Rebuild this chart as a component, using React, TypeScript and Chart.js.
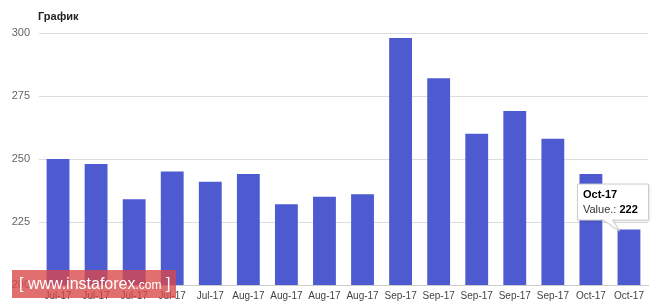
import React, { useEffect, useRef } from "react";
import { Chart, registerables } from "chart.js";

Chart.register(...registerables);

const categories = [
  "Jul-17", "Jul-17", "Jul-17", "Jul-17", "Jul-17",
  "Aug-17", "Aug-17", "Aug-17", "Aug-17",
  "Sep-17", "Sep-17", "Sep-17", "Sep-17", "Sep-17",
  "Oct-17", "Oct-17",
];
const values = [250, 248, 234, 245, 241, 244, 232, 235, 236, 298, 282, 260, 269, 258, 244, 222];
const yTicks = [200, 225, 250, 275, 300];
const titleText = "График";
const tooltipIndex = 15;
const tooltipLabel = "Value.: ";

const FONT = "Arial, 'Liberation Sans', sans-serif";

const tooltipPlugin = {
  id: "fixedTooltip",
  afterDraw(chart: any) {
    const meta = chart.getDatasetMeta(0);
    const el = meta.data[tooltipIndex];
    if (!el) return;
    const ctx = chart.ctx;
    const tipX = el.x - 10;
    const tipY = el.y + 1;
    const bx = el.x - 52;
    const by = el.y - 46;
    const bw = 71;
    const bh = 36;
    ctx.save();
    ctx.shadowColor = "rgba(0,0,0,0.15)";
    ctx.shadowBlur = 3;
    ctx.shadowOffsetX = 1;
    ctx.shadowOffsetY = 1;
    ctx.fillStyle = "#ffffff";
    ctx.strokeStyle = "#cccccc";
    ctx.lineWidth = 1;
    ctx.beginPath();
    ctx.moveTo(bx + 0.5, by + 0.5);
    ctx.lineTo(bx + bw + 0.5, by + 0.5);
    ctx.lineTo(bx + bw + 0.5, by + bh + 0.5);
    ctx.lineTo(bx + 35.5, by + bh + 0.5);
    ctx.lineTo(tipX + 0.5, tipY + 0.5);
    ctx.lineTo(bx + 26.5, by + bh + 0.5);
    ctx.lineTo(bx + 0.5, by + bh + 0.5);
    ctx.closePath();
    ctx.fill();
    ctx.shadowColor = "transparent";
    ctx.stroke();
    ctx.fillStyle = "#000000";
    ctx.textBaseline = "alphabetic";
    ctx.textAlign = "left";
    ctx.font = "bold 11px " + FONT;
    ctx.fillText(categories[tooltipIndex], bx + 6, by + 14);
    ctx.font = "11px " + FONT;
    ctx.fillStyle = "#333333";
    ctx.fillText(tooltipLabel, bx + 6, by + 29);
    const w = ctx.measureText(tooltipLabel).width;
    ctx.font = "bold 11px " + FONT;
    ctx.fillStyle = "#000000";
    ctx.fillText(String(values[tooltipIndex]), bx + 6 + w, by + 29);
    ctx.restore();
  },
};

export default function App() {
  const ref = useRef<HTMLCanvasElement>(null);
  useEffect(() => {
    if (!ref.current) return;
    const chart = new Chart(ref.current, {
      type: "bar",
      data: {
        labels: categories,
        datasets: [
          {
            data: values,
            backgroundColor: "#4e5acf",
            borderWidth: 0,
            barPercentage: 0.6,
            categoryPercentage: 1,
          },
        ],
      },
      options: {
        animation: false,
        responsive: false,
        maintainAspectRatio: false,
        layout: { padding: { top: 33, right: 15, left: 0, bottom: 0 } },
        plugins: {
          legend: { display: false },
          tooltip: { enabled: false },
          title: { display: false },
        },
        scales: {
          x: {
            grid: { display: false, drawTicks: false },
            border: { display: true, color: "#cccccc" },
            ticks: {
              color: "#444444",
              font: { size: 10, family: FONT },
              maxRotation: 0,
              autoSkip: false,
              padding: 5,
            },
            afterFit(scale: any) {
              scale.height = 22;
            },
          },
          y: {
            min: 200,
            max: 300,
            afterBuildTicks(scale: any) {
              scale.ticks = yTicks.map((v) => ({ value: v }));
            },
            grid: { color: "#dddddd", drawTicks: false },
            border: { display: false },
            ticks: {
              color: "#666666",
              font: { size: 11, family: FONT },
              padding: 9,
            },
            afterFit(scale: any) {
              scale.width = 39;
            },
          },
        },
      },
      plugins: [tooltipPlugin],
    });
    return () => chart.destroy();
  }, []);
  return (
    <div style={{ position: "fixed", left: 0, top: 0, width: 663, height: 307, background: "#fff" }}>
      <canvas ref={ref} width={663} height={307} style={{ position: "absolute", left: 0, top: 0 }} />
      <div
        style={{
          position: "absolute",
          left: 38,
          top: 10,
          font: "bold 11px " + FONT,
          color: "#222",
        }}
      >
        {titleText}
      </div>
      <div
        style={{
          position: "absolute",
          left: 12,
          top: 270,
          width: 164,
          height: 28,
          background: "rgba(218, 70, 72, 0.78)",
          color: "#fff",
          font: "16px " + FONT,
          lineHeight: "28px",
          whiteSpace: "nowrap",
          paddingLeft: 7,
          boxSizing: "border-box",
        }}
      >
        [ www.instaforex<span style={{ fontSize: 12 }}>.com</span> ]
      </div>
    </div>
  );
}
